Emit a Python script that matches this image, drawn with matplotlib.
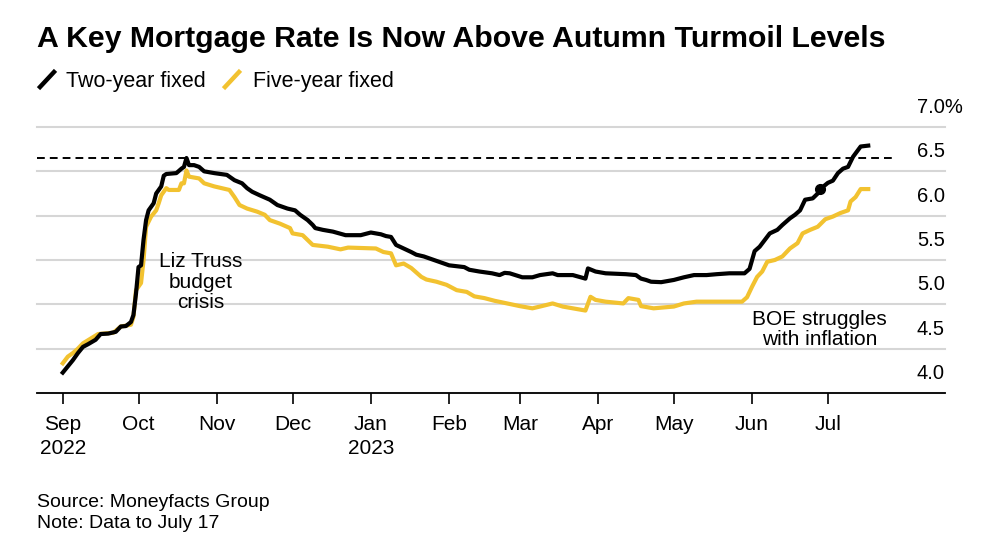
import matplotlib.pyplot as plt
from matplotlib.lines import Line2D
from matplotlib.transforms import ScaledTranslation
import pandas as pd

plt.rcParams['font.family'] = ['Liberation Sans', 'DejaVu Sans']

# Moneyfacts average fixed mortgage rates (%)
# days counted from 1 Sep 2022
start = pd.Timestamp('2022-09-01')

two_year_days = [0, 2, 4, 6, 8, 10, 13, 15, 18, 21, 23, 25, 27, 28, 29, 30, 31, 32, 33, 34,
                 36, 37, 39, 40, 41, 45, 47, 48, 49, 50, 52, 54, 56, 60, 65, 68, 71, 73, 75, 78,
                 82, 85, 89, 92, 94, 97, 99, 100, 103, 107, 112, 118, 122, 126, 128, 130, 132, 135, 138, 140,
                 143, 146, 149, 153, 159, 161, 165, 170, 173, 175, 177, 182, 186, 189, 194, 196, 202, 207, 208, 211,
                 215, 223, 227, 229, 231, 233, 237, 242, 246, 250, 255, 259, 264, 270, 272, 274, 276, 278, 280, 283,
                 285, 288, 290, 292, 294, 297, 299, 300, 303, 305, 307, 309, 311, 313, 316, 319]
two_year_rates = [4.23, 4.30, 4.37, 4.45, 4.52, 4.55, 4.60, 4.665, 4.67, 4.69, 4.75, 4.755, 4.80, 4.88, 5.12, 5.42, 5.44, 5.73, 5.95, 6.06,
                  6.14, 6.25, 6.33, 6.45, 6.47, 6.48, 6.53, 6.55, 6.65, 6.57, 6.57, 6.55, 6.50, 6.48, 6.46, 6.40, 6.365, 6.31, 6.27, 6.23,
                  6.18, 6.12, 6.08, 6.06, 6.01, 5.95, 5.895, 5.86, 5.84, 5.82, 5.78, 5.78, 5.81, 5.79, 5.77, 5.76, 5.67, 5.63, 5.59, 5.56,
                  5.54, 5.51, 5.48, 5.44, 5.42, 5.39, 5.37, 5.35, 5.33, 5.355, 5.35, 5.305, 5.305, 5.33, 5.35, 5.33, 5.33, 5.29, 5.405, 5.37,
                  5.35, 5.34, 5.33, 5.29, 5.275, 5.255, 5.25, 5.275, 5.305, 5.33, 5.33, 5.34, 5.35, 5.35, 5.40, 5.60, 5.65, 5.725, 5.80, 5.84,
                  5.895, 5.97, 6.01, 6.06, 6.18, 6.195, 6.25, 6.30, 6.37, 6.395, 6.48, 6.53, 6.55, 6.665, 6.78, 6.79]

five_year_days = [0, 2, 4, 6, 8, 14, 20, 23, 27, 28, 29, 31, 32, 33, 35, 37, 38, 39, 41, 42,
                  46, 47, 48, 49, 50, 54, 56, 60, 66, 68, 70, 73, 77, 80, 82, 86, 90, 91, 95, 97,
                  99, 105, 110, 113, 124, 127, 130, 132, 135, 138, 142, 144, 148, 152, 156, 160, 163, 167, 171, 176,
                  181, 186, 189, 194, 198, 202, 207, 209, 211, 215, 222, 224, 228, 229, 234, 242, 246, 251, 259, 269,
                  271, 273, 275, 277, 279, 282, 285, 288, 291, 293, 296, 299, 302, 305, 308, 311, 312, 314, 316, 319]
five_year_rates = [4.335, 4.41, 4.45, 4.50, 4.56, 4.665, 4.68, 4.75, 4.77, 4.86, 5.16, 5.24, 5.50, 5.875, 5.99, 6.06, 6.14, 6.23, 6.31, 6.29,
                   6.29, 6.365, 6.365, 6.51, 6.44, 6.42, 6.365, 6.33, 6.29, 6.21, 6.12, 6.08, 6.045, 6.01, 5.95, 5.91, 5.86, 5.80, 5.78, 5.725,
                   5.67, 5.65, 5.62, 5.64, 5.63, 5.59, 5.575, 5.44, 5.46, 5.41, 5.31, 5.28, 5.255, 5.22, 5.16, 5.14, 5.09, 5.07, 5.04, 5.01,
                   4.98, 4.955, 4.975, 5.01, 4.975, 4.955, 4.93, 5.085, 5.05, 5.03, 5.01, 5.07, 5.05, 4.98, 4.955, 4.975, 5.01, 5.03, 5.03, 5.03,
                   5.08, 5.20, 5.31, 5.37, 5.48, 5.50, 5.54, 5.63, 5.69, 5.80, 5.84, 5.875, 5.96, 5.99, 6.03, 6.06, 6.16, 6.21, 6.30, 6.30]

peak_rate = 6.65          # October 2022 two-year peak
dot_day, dot_rate = 300, 6.30

y_ticks = [4.0, 4.5, 5.0, 5.5, 6.0, 6.5, 7.0]
month_labels = ['Sep\n2022', 'Oct', 'Nov', 'Dec', 'Jan\n2023', 'Feb', 'Mar', 'Apr', 'May', 'Jun', 'Jul']

BLACK = '#000000'
YELLOW = '#F2C230'
GRID = '#d6d6d6'

two_dates = start + pd.to_timedelta(two_year_days, unit='D')
five_dates = start + pd.to_timedelta(five_year_days, unit='D')
months = pd.date_range('2022-09-01', '2023-07-01', freq='MS')

W, H = 1001, 551
fig = plt.figure(figsize=(W / 100, H / 100), dpi=100)
ax = fig.add_axes([37 / W, 1 - 393 / H, 908 / W, 266 / H])

for v in y_ticks:
    ax.axhline(v, color=GRID, lw=1.5, zorder=0, clip_on=False)
    lab = f'{v:.1f}' + ('%' if v == 7.0 else '')
    ax.text(0.969, v, lab, fontsize=14.5, ha='left', va='center',
            transform=ax.get_yaxis_transform() + ScaledTranslation(0, 0.195, fig.dpi_scale_trans))

ax.axhline(peak_rate, xmin=0, xmax=0.9416, color=BLACK, lw=1.4, ls=(0, (4, 2.6)), zorder=2)

ax.plot(five_dates, five_year_rates, color=YELLOW, lw=3.0, zorder=3, solid_joinstyle='round')
ax.plot(two_dates, two_year_rates, color=BLACK, lw=3.0, zorder=4, solid_joinstyle='round')
ax.plot(start + pd.Timedelta(days=dot_day), dot_rate, 'o', color=BLACK, ms=7, zorder=5)

ax.set_xlim(start - pd.Timedelta(days=10.2), start + pd.Timedelta(days=349.4))
ax.set_ylim(4.0, 7.0)
ax.set_xticks(months)
ax.set_xticklabels(month_labels, fontsize=15, linespacing=1.3)
ax.tick_params(axis='x', length=8, width=1.2, pad=8, color=BLACK)
ax.set_yticks([])
for s in ['top', 'left', 'right']:
    ax.spines[s].set_visible(False)
ax.spines['bottom'].set_linewidth(1.3)
ax.patch.set_alpha(0)

ax.text(0.1806, 0.417, 'Liz Truss\nbudget\ncrisis', transform=ax.transAxes, fontsize=15,
        ha='center', va='center', linespacing=1.12)
ax.text(0.862, 0.239, 'BOE struggles\nwith inflation', transform=ax.transAxes, fontsize=15,
        ha='center', va='center', linespacing=1.12)

# title, legend, footer in pixel positions
fig.text(37 / W, 1 - 46.7 / H, 'A Key Mortgage Rate Is Now Above Autumn Turmoil Levels',
         fontsize=21.8, fontweight='bold', va='baseline')
fig.add_artist(Line2D([40 / W, 54 / W], [1 - 87 / H, 1 - 72 / H], color=BLACK, lw=3.2))
fig.text(66.5 / W, 1 - 87.3 / H, 'Two-year fixed', fontsize=15.5, va='baseline')
fig.add_artist(Line2D([225 / W, 239 / W], [1 - 87 / H, 1 - 72 / H], color=YELLOW, lw=3.2))
fig.text(253 / W, 1 - 87.3 / H, 'Five-year fixed', fontsize=15.5, va='baseline')

fig.text(37 / W, 1 - 507.3 / H, 'Source: Moneyfacts Group', fontsize=14, va='baseline')
fig.text(37 / W, 1 - 528.3 / H, 'Note: Data to July 17', fontsize=14, va='baseline')

fig.savefig('out.png', dpi=100, facecolor='white')
